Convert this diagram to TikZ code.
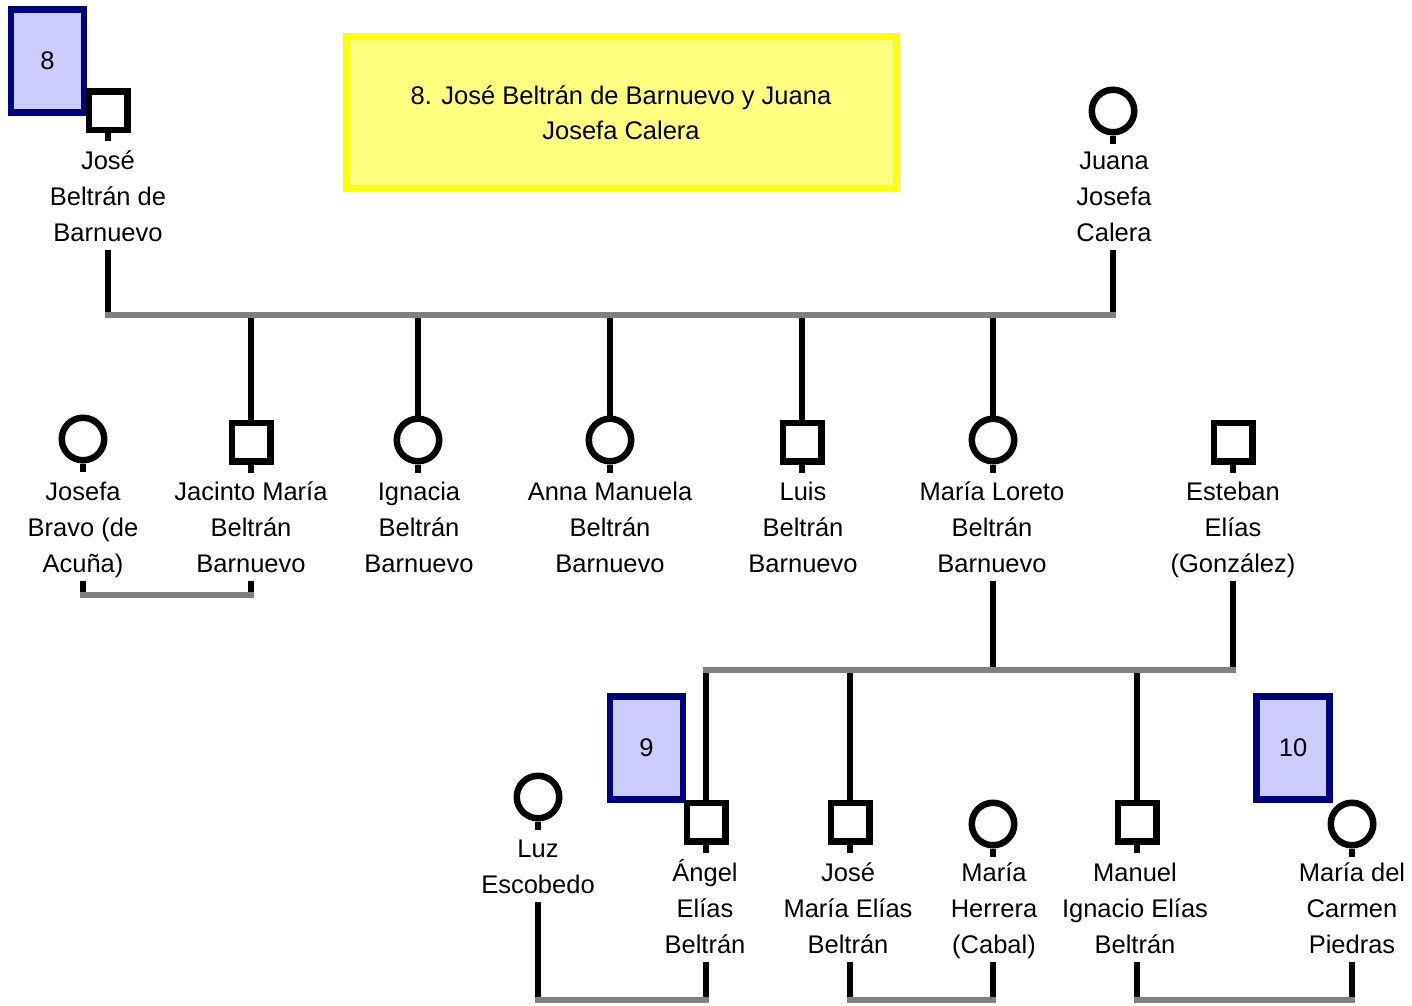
\documentclass[tikz,border=0pt]{standalone}
\usepackage{fontspec}
\setmainfont{Liberation Sans}
\definecolor{barGray}{RGB}{128,128,128}
\definecolor{numDraw}{RGB}{0,0,128}
\definecolor{numFill}{RGB}{204,204,255}
\definecolor{noteDraw}{RGB}{255,255,0}
\definecolor{noteFill}{RGB}{255,255,128}

\begin{document}
\begin{tikzpicture}[
  x=1pt, y=-1pt,
  who/.style={align=center, inner sep=2pt, text depth=6pt, anchor=south,
    font=\fontsize{25.5}{36}\selectfont},
  male/.style={rectangle, draw=black, fill=white, line width=6.5pt,
    minimum size=38.5pt, inner sep=0pt},
  female/.style={circle, draw=black, fill=white, line width=6.5pt,
    minimum size=42.5pt, inner sep=0pt},
  life/.style={draw=black, line width=5.5pt},
  bar/.style={draw=barGray, line width=6.5pt, line cap=rect},
  numbox/.style={draw=numDraw, fill=numFill, line width=6.5pt,
    minimum width=73pt, minimum height=103pt, inner sep=0pt,
    font=\fontsize{25.5}{36}\selectfont},
  note/.style={draw=noteDraw, fill=noteFill, line width=7pt,
    minimum width=550pt, minimum height=152pt, align=center,
    font=\fontsize{25.5}{35}\selectfont}
]
\useasboundingbox (0,0) rectangle (1412,1005);

% Generation numbers.
\node[numbox] (n8) at (47.5,61) {8};
\node[numbox] (n9) at (646.5,748) {9};
\node[numbox] (n10) at (1293,748) {10};

% Title of the family sheet.
\node[note] (title) at (621,112.5) {8. José Beltrán de Barnuevo y Juana\\Josefa Calera};

% Parents.
\node[male] (jose) at (108,110.5) {};
\node[who] (joseN) at (108,250) {José\\Beltrán de\\Barnuevo};
\node[female] (juana) at (1113,111) {};
\node[who] (juanaN) at (1114,250) {Juana\\Josefa\\Calera};

% Children and in-laws.
\node[female] (josefa) at (83,439) {};
\node[who] (josefaN) at (83,581) {Josefa\\Bravo (de\\Acuña)};
\node[male] (jacinto) at (251,442) {};
\node[who] (jacintoN) at (251,581) {Jacinto María\\Beltrán\\Barnuevo};
\node[female] (ignacia) at (418,440) {};
\node[who] (ignaciaN) at (419,581) {Ignacia\\Beltrán\\Barnuevo};
\node[female] (anna) at (610,440) {};
\node[who] (annaN) at (610,581) {Anna Manuela\\Beltrán\\Barnuevo};
\node[male] (luis) at (802,442) {};
\node[who] (luisN) at (803,581) {Luis\\Beltrán\\Barnuevo};
\node[female] (loreto) at (993,440) {};
\node[who] (loretoN) at (992,581) {María Loreto\\Beltrán\\Barnuevo};
\node[male] (esteban) at (1233,442) {};
\node[who] (estebanN) at (1233,581) {Esteban\\Elías\\(González)};

% Grandchildren and their spouses.
\node[female] (luz) at (538,797) {};
\node[who] (luzN) at (538,902) {Luz\\Escobedo};
\node[male] (angel) at (706,822) {};
\node[who] (angelN) at (705,962) {Ángel\\Elías\\Beltrán};
\node[male] (josem) at (850,822) {};
\node[who] (josemN) at (848,962) {José\\María Elías\\Beltrán};
\node[female] (herrera) at (993,824) {};
\node[who] (herreraN) at (994,962) {María\\Herrera\\(Cabal)};
\node[male] (manuel) at (1137,822) {};
\node[who] (manuelN) at (1135,962) {Manuel\\Ignacio Elías\\Beltrán};
\node[female] (carmen) at (1352,824) {};
\node[who] (carmenN) at (1352,962) {María del\\Carmen\\Piedras};

% Short ticks under every symbol.
\foreach \p in {jose,juana,josefa,jacinto,ignacia,anna,luis,loreto,esteban,
                luz,angel,josem,herrera,manuel,carmen}
  \draw[life] (\p.south) -- ++(0,8);

% José and Juana with their children.
\coordinate (bar8) at (0,315);
\draw[life] (jose |- joseN.south) -- (jose |- bar8);
\draw[life] (juana |- juanaN.south) -- (juana |- bar8);
\foreach \c in {jacinto,ignacia,anna,luis,loreto}
  \draw[life] (\c |- bar8) -- (\c);
\draw[bar] (jose |- bar8) -- (juana |- bar8);

% Josefa and Jacinto.
\coordinate (bar7) at (0,595);
\draw[life] (josefa |- josefaN.south) -- (josefa |- bar7);
\draw[life] (jacinto |- jacintoN.south) -- (jacinto |- bar7);
\draw[bar] (josefa |- bar7) -- (jacinto |- bar7);

% María Loreto and Esteban with their children.
\coordinate (bar9) at (0,670);
\draw[life] (loreto |- loretoN.south) -- (loreto |- bar9);
\draw[life] (esteban |- estebanN.south) -- (esteban |- bar9);
\foreach \c in {angel,josem,manuel}
  \draw[life] (\c |- bar9) -- (\c);
\draw[bar] (angel |- bar9) -- (esteban |- bar9);

% Couples of the last row.
\coordinate (bar10) at (0,1000);
\draw[life] (luz |- luzN.south) -- (luz |- bar10);
\draw[life] (angel |- angelN.south) -- (angel |- bar10);
\draw[bar] (luz |- bar10) -- (angel |- bar10);
\draw[life] (josem |- josemN.south) -- (josem |- bar10);
\draw[life] (herrera |- herreraN.south) -- (herrera |- bar10);
\draw[bar] (josem |- bar10) -- (herrera |- bar10);
\draw[life] (manuel |- manuelN.south) -- (manuel |- bar10);
\draw[life] (carmen |- carmenN.south) -- (carmen |- bar10);
\draw[bar] (manuel |- bar10) -- (carmen |- bar10);

\end{tikzpicture}
\end{document}
